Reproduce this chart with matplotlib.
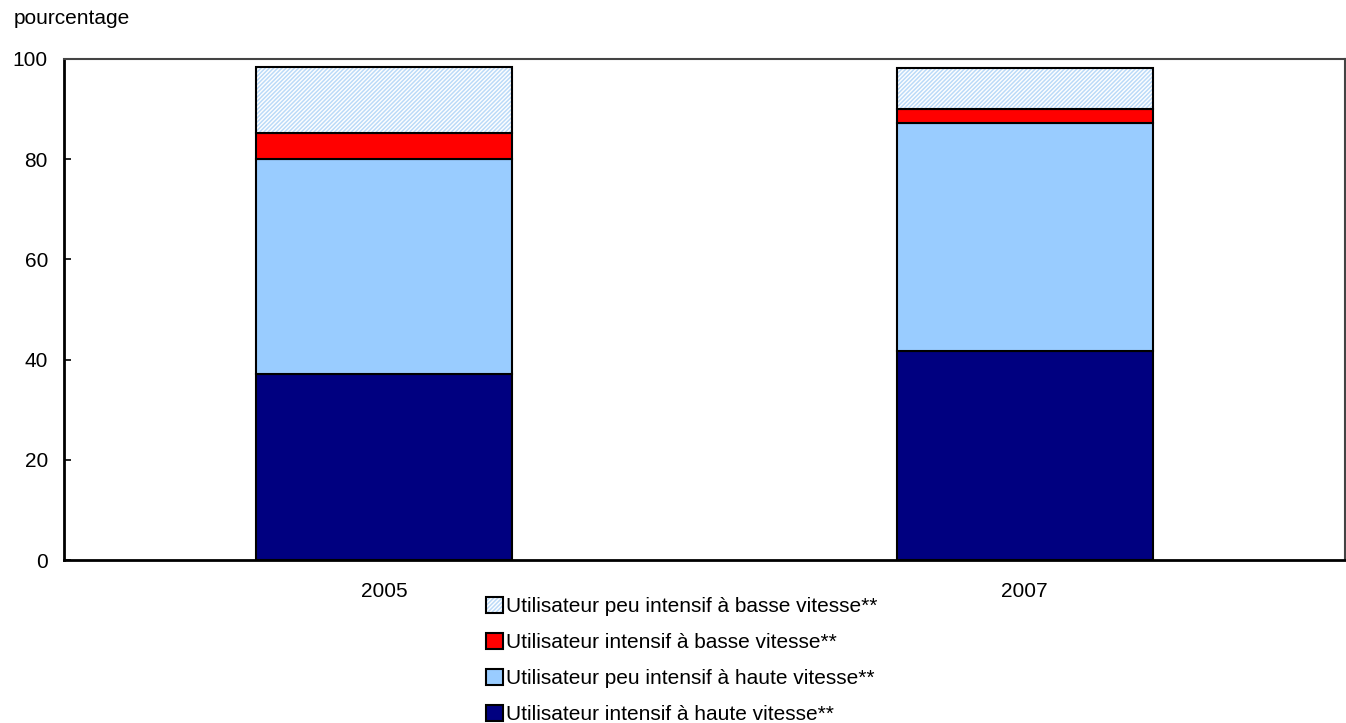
import numpy as np
import matplotlib.pyplot as plt
from matplotlib.patches import Patch
from matplotlib.legend_handler import HandlerTuple

plt.rcParams['font.family'] = ['Liberation Sans', 'DejaVu Sans']
plt.rcParams['hatch.linewidth'] = 1.1

years = ['2005', '2007']
intensif_haute = [37.1, 41.7]
peu_intensif_haute = [42.9, 45.5]
intensif_basse = [5.2, 2.8]
peu_intensif_basse = [13.2, 8.2]

labels = ['Utilisateur intensif à haute vitesse**',
          'Utilisateur peu intensif à haute vitesse**',
          'Utilisateur intensif à basse vitesse**',
          'Utilisateur peu intensif à basse vitesse**']

fs = 15
fig = plt.figure(figsize=(13.46, 7.23), dpi=100)
ax = fig.add_axes([0.0475, 0.2254, 0.9518, 0.6930])

x = np.arange(len(years))
w = 0.4
lw = 1.5

b1 = np.array(intensif_haute)
b2 = b1 + np.array(peu_intensif_haute)
b3 = b2 + np.array(intensif_basse)

ax.bar(x, intensif_haute, w, color='#000080', edgecolor='black', linewidth=lw)
ax.bar(x, peu_intensif_haute, w, bottom=b1, color='#99CCFF', edgecolor='black', linewidth=lw)
ax.bar(x, intensif_basse, w, bottom=b2, color='#FF0000', edgecolor='black', linewidth=lw)
# hatched segment: hatch drawn in light blue, then black outline on top
ax.bar(x, peu_intensif_basse, w, bottom=b3, color='white', edgecolor='#BBDAF8',
       hatch='////////', linewidth=0)
ax.bar(x, peu_intensif_basse, w, bottom=b3, fill=False, edgecolor='black', linewidth=lw)

ax.set_xlim(-0.5, 1.5)
ax.set_ylim(0, 100)
ax.set_yticks([0, 20, 40, 60, 80, 100])
ax.set_xticks(x)
ax.set_xticklabels(years)
ax.tick_params(axis='y', direction='in', length=5, width=1.2, labelsize=fs, pad=11.5)
ax.tick_params(axis='x', length=0, labelsize=fs, pad=16)
for s in ['left', 'bottom']:
    ax.spines[s].set_linewidth(2)
for s in ['top', 'right']:
    ax.spines[s].set_linewidth(1.5)
    ax.spines[s].set_color('#444444')

fig.text(0.010, 0.975, 'pourcentage', fontsize=fs, va='center', ha='left')

hatch_handle = (Patch(facecolor='white', edgecolor='#BBDAF8', hatch='////////', linewidth=0),
                Patch(fill=False, edgecolor='black', linewidth=lw))
handles = [hatch_handle,
           Patch(facecolor='#FF0000', edgecolor='black', linewidth=lw),
           Patch(facecolor='#99CCFF', edgecolor='black', linewidth=lw),
           Patch(facecolor='#000080', edgecolor='black', linewidth=lw)]
leg_labels = [labels[3], labels[2], labels[1], labels[0]]
fig.legend(handles, leg_labels, loc='upper left', bbox_to_anchor=(0.361, 0.174),
           frameon=False, fontsize=fs, handlelength=0.8, handleheight=0.8,
           handletextpad=0.15, labelspacing=0.8, borderaxespad=0, borderpad=0,
           handler_map={tuple: HandlerTuple(ndivide=1)})

fig.savefig('out.png', dpi=100)
